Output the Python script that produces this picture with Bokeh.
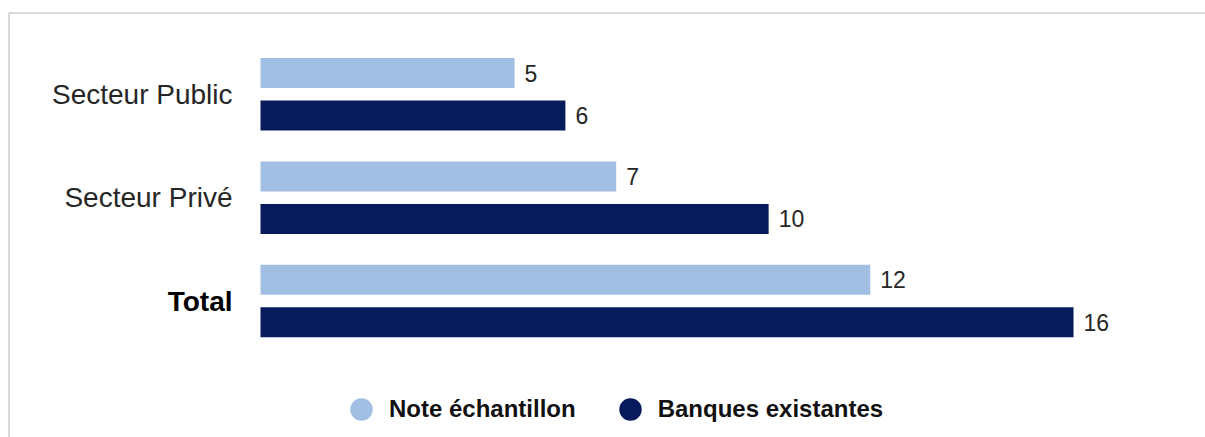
from bokeh.plotting import figure
from bokeh.models import ColumnDataSource, Range1d, Legend, LegendItem
from bokeh.transform import dodge
from bokeh.core.properties import value, field
from bokeh.embed import file_html
from bokeh.resources import INLINE

# ---- data ----
categories = ["Secteur Public", "Secteur Privé", "Total"]
category_styles = ["normal", "normal", "bold"]
category_colors = ["#262626", "#262626", "#000000"]
series_names = ["Note échantillon", "Banques existantes"]
note_echantillon = [5, 7, 12]
banques_existantes = [6, 10, 16]
colors = ["#a0bfe3", "#061a5c"]

# ---- layout constants (pixels) ----
W, H = 1205, 437
X0 = 260.0       # pixel of value 0
XS = 50.8125     # pixels per unit
Y0 = 93.75       # pixel of first category centre
YS = 103.375     # pixels per category
OFF = 21.25 / YS  # half distance between paired bars
BAR_H = 30.0 / YS
FONT = "Liberation Sans"

x_range = Range1d(-X0 / XS, (W - X0) / XS)
y_range = Range1d((H - Y0) / YS, -Y0 / YS)

p = figure(width=W, height=H, x_range=x_range, y_range=y_range,
           x_axis_location=None, y_axis_location=None,
           toolbar_location=None, output_backend="svg",
           min_border=0, outline_line_color=None,
           background_fill_color="white", border_fill_color="white")
p.grid.visible = False

src = ColumnDataSource(dict(
    ypos=list(range(len(categories))),
    cat=categories,
    style=category_styles,
    ccolor=category_colors,
    note=note_echantillon,
    banques=banques_existantes,
    note_lbl=[str(v) for v in note_echantillon],
    banques_lbl=[str(v) for v in banques_existantes],
))

# frame border (top and left only are visible in the reference)
bx = (8.5 - X0) / XS
by = (12.5 - Y0) / YS
p.line(x=[bx, bx, x_range.end], y=[y_range.start, by, by],
       line_color="#b4b4b4", line_width=1)

p.hbar(y=dodge("ypos", -OFF), left=0, right="note", height=BAR_H,
       fill_color=colors[0], line_color=None, source=src)
p.hbar(y=dodge("ypos", OFF), left=0, right="banques", height=BAR_H,
       fill_color=colors[1], line_color=None, source=src)

# category labels
p.text(x=0, y="ypos", text="cat", x_offset=-28,
       text_align="right", text_baseline="middle",
       text_font=value(FONT), text_font_size="28px",
       text_font_style=field("style"), text_color=field("ccolor"), source=src)

# value labels
for col, lbl, off in (("note", "note_lbl", -OFF), ("banques", "banques_lbl", OFF)):
    p.text(x=col, y=dodge("ypos", off), text=lbl, x_offset=10,
           text_align="left", text_baseline="middle",
           text_font=value(FONT), text_font_size="23px",
           text_color="#262626", source=src)

# legend (circle markers; zero-size markers so only the legend glyph shows)
r1 = p.scatter(x="note", y=dodge("ypos", -OFF), marker="circle", size=0,
               fill_color=colors[0], line_color=None, source=src)
r2 = p.scatter(x="banques", y=dodge("ypos", OFF), marker="circle", size=0,
               fill_color=colors[1], line_color=None, source=src)
legend = Legend(items=[LegendItem(label=series_names[0], renderers=[r1], index=0),
                       LegendItem(label=series_names[1], renderers=[r2], index=0)],
                location=(333, 0), orientation="horizontal",
                glyph_width=56, glyph_height=56, label_standoff=0,
                spacing=26, padding=0, margin=0,
                border_line_color=None, background_fill_alpha=0,
                label_text_font=FONT, label_text_font_size="24px",
                label_text_font_style="bold", label_text_color="#111111")
p.add_layout(legend)

open("out.html", "w", encoding="utf-8").write(file_html(p, INLINE))
